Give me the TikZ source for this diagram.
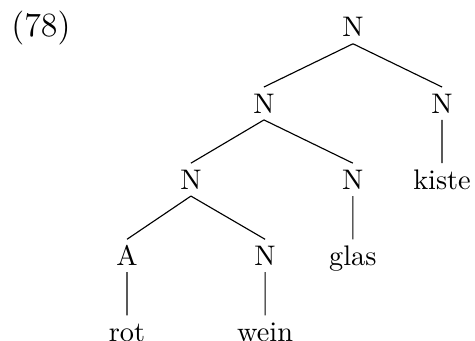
\documentclass[tikz,border=0pt]{standalone}
\usetikzlibrary{trees}

\begin{document}
\begin{tikzpicture}[cat/.style={text height=6.83pt,text depth=0pt,inner sep=2.2pt},
	every child node/.style={cat},
	level distance=26.9pt,
	level 1/.style={sibling distance=62.9pt},
	level 2/.style={sibling distance=57.2pt},
	level 3/.style={sibling distance=48.8pt},
	edge from parent/.style={draw},
	edge from parent path={(\tikzparentnode.south) -- (\tikzchildnode.north)}
]
	\useasboundingbox (-124.7pt,-110.5pt) rectangle (43.1pt,9.65pt);
	\node[cat] (top) {N}
		child {node (nleft) {N}
			child[xshift=2.8pt] {node (nlow) {N}
				child[xshift=1.8pt] {node (adj) {A}
					child {node (rot) {rot}}
				}
				child[xshift=1.8pt] {node (nwein) {N}
					child {node (wein) {wein}}
				}
			}
			child[xshift=2.8pt] {node (nglas) {N}
				child {node (glas) {glas}}
			}
		}
		child {node (nright) {N}
			child {node (kiste) {kiste}}
		};
	\node[anchor=base west,inner sep=0pt,font=\large] (exnum) at ([xshift=-120.9pt]top.base) {(78)};
\end{tikzpicture}
\end{document}
